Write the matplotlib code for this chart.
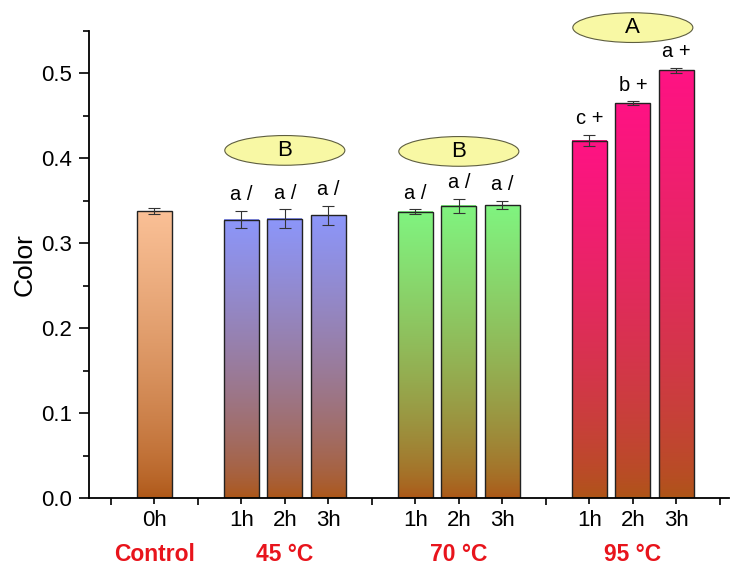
import numpy as np
import matplotlib
matplotlib.use('Agg')
import matplotlib.pyplot as plt
from matplotlib.patches import Ellipse
from matplotlib.colors import to_rgb
from matplotlib.ticker import MultipleLocator, FixedLocator
from matplotlib.transforms import blended_transform_factory

plt.rcParams['font.family'] = ['Liberation Sans', 'DejaVu Sans']

# data
times = ['0h', '1h', '2h', '3h', '1h', '2h', '3h', '1h', '2h', '3h']
groups = ['Control', '45 °C', '70 °C', '95 °C']
group_of_bar = [0, 1, 1, 1, 2, 2, 2, 3, 3, 3]
values = [0.338, 0.328, 0.329, 0.333, 0.337, 0.344, 0.345, 0.421, 0.465, 0.504]
errors = [0.004, 0.010, 0.011, 0.011, 0.003, 0.008, 0.005, 0.007, 0.002, 0.003]
letters = ['', 'a /', 'a /', 'a /', 'a /', 'a /', 'a /', 'c +', 'b +', 'a +']
group_letters = ['', 'B', 'B', 'A']

# layout
xpos = [1.5, 3.5, 4.5, 5.5, 7.5, 8.5, 9.5, 11.5, 12.5, 13.5]
group_x = [1.5, 4.5, 8.5, 12.5]
ellipse_y = [0, 0.4094, 0.4082, 0.554]
top_colors = ['#fac096', '#8c96fa', '#80f480', '#ff1284']
bottom_color = '#ad5616'

fig = plt.figure(figsize=(7.3, 5.65), dpi=100)
ax = fig.add_axes([0.122, 0.1186, 0.876, 0.8265])
ax.set_xlim(0, 14.7)
ax.set_ylim(0, 0.55)

width = 0.8
bot = np.array(to_rgb(bottom_color))
for x, v, g in zip(xpos, values, group_of_bar):
    top = np.array(to_rgb(top_colors[g]))
    t = np.linspace(0, 1, 256) ** 0.7
    grad = bot[None, :] * (1 - t[:, None]) + top[None, :] * t[:, None]
    ax.imshow(grad[:, None, :], extent=[x - width / 2, x + width / 2, 0, v],
              origin='lower', aspect='auto', zorder=1, interpolation='bilinear')
ax.bar(xpos, values, width=width, fill=False, edgecolor='#222222', linewidth=1.0, zorder=2)
ax.errorbar(xpos, values, yerr=errors, fmt='none', ecolor='#333333',
            elinewidth=0.8, capsize=4, capthick=0.8, zorder=3)
ax.set_xlim(0, 14.7)
ax.set_ylim(0, 0.55)

for x, v, e, s in zip(xpos, values, errors, letters):
    if s:
        ax.text(x, v + e + 0.019, s, ha='center', va='center', fontsize=14.5)

for gx, gy, s in zip(group_x, ellipse_y, group_letters):
    if s:
        ax.add_patch(Ellipse((gx, gy), 2.76, 0.035, facecolor='#f8f8a4',
                             edgecolor='#5e5e40', linewidth=0.8, clip_on=False, zorder=4))
        ax.text(gx, gy, s, ha='center', va='center', fontsize=16, zorder=5, clip_on=False)

# axes styling
for side in ['top', 'right']:
    ax.spines[side].set_visible(False)
for side in ['left', 'bottom']:
    ax.spines[side].set_linewidth(1.3)

ax.yaxis.set_major_locator(MultipleLocator(0.1))
ax.yaxis.set_minor_locator(MultipleLocator(0.05))
ax.yaxis.set_major_formatter(plt.FormatStrFormatter('%.1f'))
ax.tick_params(axis='y', which='major', direction='out', length=7, width=1.2, labelsize=16, pad=5)
ax.tick_params(axis='y', which='minor', direction='out', length=4, width=1.2)

ax.set_xticks(xpos)
ax.set_xticklabels(times)
ax.xaxis.set_minor_locator(FixedLocator([0.5, 2.5, 6.5, 10.5, 14.5]))
ax.tick_params(axis='x', which='major', direction='out', length=4, width=1.2, labelsize=16, pad=5)
ax.tick_params(axis='x', which='minor', direction='out', length=5, width=1.2)

ax.set_ylabel('Color', fontsize=19)
ax.yaxis.set_label_coords(-0.082, 0.5)

trans = blended_transform_factory(ax.transData, ax.transAxes)
for gx, s in zip(group_x, groups):
    ax.text(gx, -0.122, s, transform=trans, ha='center', va='center',
            fontsize=16.5, fontweight='bold', color='#e8141c')

fig.savefig('out.png', dpi=100)
